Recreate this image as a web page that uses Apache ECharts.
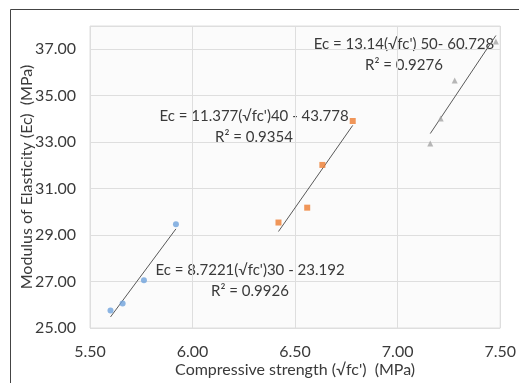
<!DOCTYPE html>
<html>
<head>
<meta charset="utf-8">
<script src="https://cdn.jsdelivr.net/npm/echarts@6/dist/echarts.min.js"></script>
<style>
  html, body { margin: 0; padding: 0; background: #fff; }
  #chart { width: 519px; height: 383px; }
</style>
</head>
<body>
<div id="chart"></div>
<script>
// values
const xTicks = [5.5, 6.0, 6.5, 7.0, 7.5]
const yTicks = [25, 27, 29, 31, 33, 35, 37]

const series30x = [5.60, 5.659, 5.763, 5.919]
const series30y = [25.75, 26.05, 27.06, 29.47]

const series40x = [6.419, 6.559, 6.633, 6.781]
const series40y = [29.54, 30.18, 32.02, 33.91]

const series50x = [7.159, 7.21, 7.278, 7.479]
const series50y = [32.94, 34.02, 35.65, 37.33]

const labels = [
  { eq: "Ec = 8.7221(√fc')30 - 23.192", r2: 'R² = 0.9926' },
  { eq: "Ec = 11.377(√fc')40 - 43.778", r2: 'R² = 0.9354' },
  { eq: "Ec = 13.14(√fc') 50- 60.728", r2: 'R² = 0.9276' }
]

const FONT = 'Lato, "Open Sans", sans-serif'
const TEXT = '#3a3a3a'

const pairs = (xs, ys) => xs.map((x, i) => [x, ys[i]])

// least squares line across the range of the points
const trend = (xs, ys) => {
  const n = xs.length
  const mx = xs.reduce((a, b) => a + b, 0) / n
  const my = ys.reduce((a, b) => a + b, 0) / n
  let sxy = 0, sxx = 0
  xs.forEach((x, i) => { sxy += (x - mx) * (ys[i] - my); sxx += (x - mx) ** 2 })
  const k = sxy / sxx
  const x0 = Math.min(...xs), x1 = Math.max(...xs)
  return [[x0, my + k * (x0 - mx)], [x1, my + k * (x1 - mx)]]
}

const scatter = (name, xs, ys, symbol, color) => ({
  name, type: 'scatter', data: pairs(xs, ys),
  symbol, symbolSize: 6,
  itemStyle: { color }, z: 3
})

const trendLine = (xs, ys) => ({
  type: 'line', data: trend(xs, ys), showSymbol: false, symbol: 'none',
  lineStyle: { color: '#595959', width: 1 }, z: 2, silent: true
})

const labelText = (cx, cy, text) => ({
  type: 'text', x: cx, y: cy,
  style: { text, fill: TEXT, font: '15px ' + FONT, align: 'center', verticalAlign: 'middle' }
})

const chart = echarts.init(document.getElementById('chart'), null, { renderer: 'canvas' })

chart.setOption({
  animation: false,
  backgroundColor: '#fff',
  grid: { left: 90, right: 9, top: 26, bottom: 52, show: true, borderColor: '#dedede', borderWidth: 1, backgroundColor: '#fbfbfb' },
  xAxis: {
    type: 'value', min: xTicks[0], max: xTicks[xTicks.length - 1], interval: 0.5,
    name: "Compressive strength (√fc')  (MPa)", nameLocation: 'middle', nameGap: 34, nameMoveOverlap: false,
    nameTextStyle: { fontFamily: FONT, fontSize: 16, color: TEXT },
    axisLine: { show: false }, axisTick: { show: false },
    axisLabel: { fontFamily: FONT, fontSize: 16, color: TEXT, margin: 16, formatter: v => v.toFixed(2) },
    splitLine: { lineStyle: { color: '#dedede', width: 1 } }
  },
  yAxis: {
    type: 'value', min: yTicks[0], max: 38, interval: 2,
    name: 'Modulus of Elasticity (Ec)  (MPa)', nameLocation: 'middle', nameGap: 55, nameRotate: 90, nameMoveOverlap: false,
    nameTextStyle: { fontFamily: FONT, fontSize: 16, color: TEXT },
    axisLine: { show: false }, axisTick: { show: false },
    axisLabel: { fontFamily: FONT, fontSize: 16, color: TEXT, margin: 14, showMaxLabel: false, formatter: v => v.toFixed(2) },
    splitLine: { lineStyle: { color: '#dedede', width: 1 } }
  },
  series: [
    scatter('30', series30x, series30y, 'circle', '#6fa3dc'),
    scatter('40', series40x, series40y, 'rect', '#ed7d31'),
    scatter('50', series50x, series50y, 'triangle', '#a5a5a5'),
    trendLine(series30x, series30y),
    trendLine(series40x, series40y),
    trendLine(series50x, series50y)
  ],
  graphic: [
    { type: 'rect', shape: { x: 10.5, y: 9.5, width: 530, height: 400 }, style: { fill: 'none', stroke: '#444', lineWidth: 1 }, silent: true },
    labelText(250, 270, labels[0].eq),
    labelText(250, 291, labels[0].r2),
    labelText(254, 116, labels[1].eq),
    labelText(254, 137, labels[1].r2),
    labelText(404, 44, labels[2].eq),
    labelText(404, 65, labels[2].r2)
  ]
})
</script>
</body>
</html>
